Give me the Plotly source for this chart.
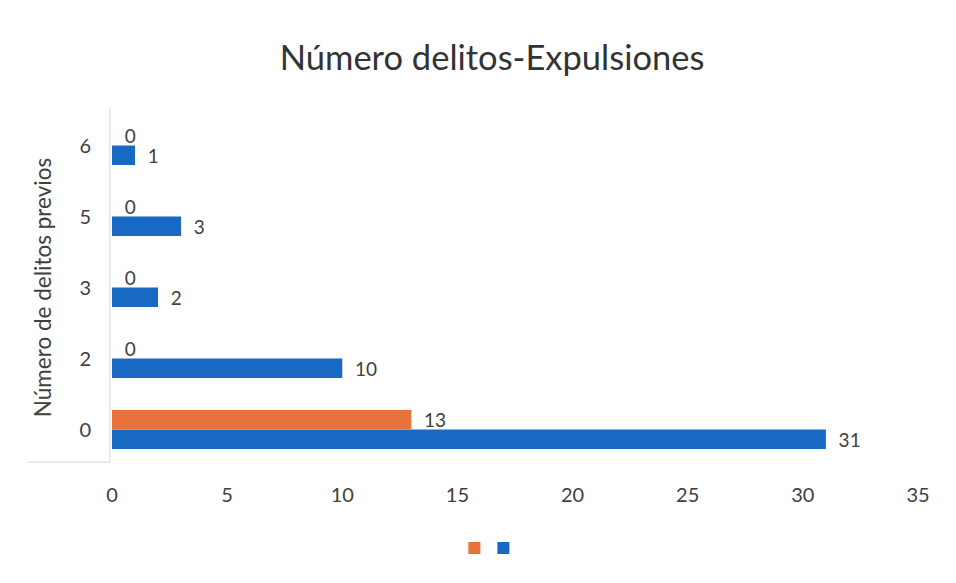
import plotly.graph_objects as go

categories = ["0", "2", "3", "5", "6"]
blue_values = [31, 10, 2, 3, 1]
orange_values = [13, 0, 0, 0, 0]
x_ticks = [0, 5, 10, 15, 20, 25, 30, 35]

BLUE = "#1769C4"
ORANGE = "#E8713C"
TXT = "#404040"
FONT = "Lato"

fig = go.Figure()
for vals, col, lg in [(blue_values, BLUE, "legend2"), (orange_values, ORANGE, "legend")]:
    fig.add_trace(go.Bar(
        y=categories, x=vals, orientation="h", name="",
        marker=dict(color=col, line=dict(width=0)),
        texttemplate="  %{x}", textposition="outside", constraintext="none",
        textfont=dict(size=19, color=TXT, family=FONT), cliponaxis=False,
        showlegend=True, legend=lg,
    ))

fig.update_layout(
    width=940, height=567,
    paper_bgcolor="white", plot_bgcolor="white",
    barmode="group", bargap=0.45, bargroupgap=0,
    margin=dict(l=104, r=30, t=102, b=110, autoexpand=False),
    font=dict(family=FONT, color=TXT, size=16),
    title=dict(text="Número delitos-Expulsiones", x=0.515, xanchor="center",
               y=0.912, yanchor="middle", font=dict(size=34.5, color="#333333", family=FONT)),
    xaxis=dict(range=[0, 35], tickvals=x_ticks, showgrid=False, zeroline=False,
               showline=False, ticks="", ticklabelstandoff=16, automargin=False,
               tickfont=dict(size=20, color=TXT)),
    yaxis=dict(type="category", categoryorder="array", categoryarray=categories,
               showgrid=False, zeroline=False, showline=False, ticks="", automargin=False,
               ticklabelstandoff=20, tickfont=dict(size=20, color=TXT),
               title=dict(text="Número de delitos previos", standoff=21,
                          font=dict(size=22.5, color=TXT))),
    legend=dict(orientation="h", x=0.4527, xanchor="center", y=-0.234, yanchor="middle",
                entrywidth=0, font=dict(size=10), bgcolor="rgba(0,0,0,0)"),
    legend2=dict(orientation="h", x=0.4887, xanchor="center", y=-0.234, yanchor="middle",
                 entrywidth=0, font=dict(size=10), bgcolor="rgba(0,0,0,0)"),
)

# faint axis-title box edges (as in the reference)
fig.add_shape(type="line", xref="paper", yref="paper", x0=-0.0025, x1=-0.0025, y0=0.008, y1=1.006,
              line=dict(color="#E4E4E4", width=1.5))
fig.add_shape(type="line", xref="paper", yref="paper", x0=-0.105, x1=-0.0025, y0=0.008, y1=0.008,
              line=dict(color="#E4E4E4", width=1.5))

fig.write_html("out.html")
